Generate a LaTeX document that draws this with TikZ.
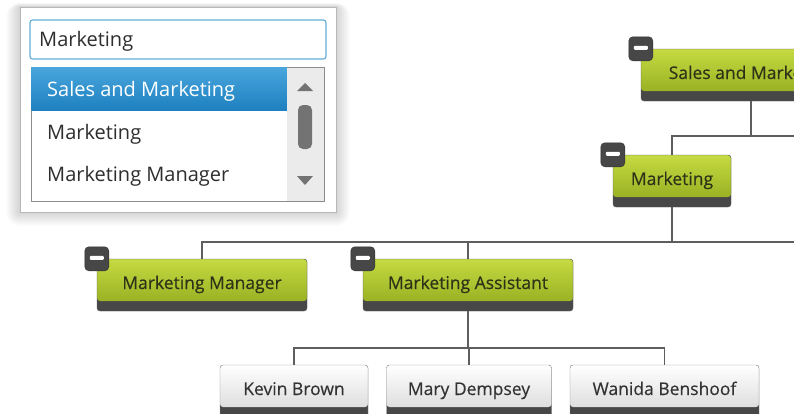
\documentclass[tikz,border=0pt]{standalone}
\usepackage{fontspec}
\setmainfont{Open Sans}
\newfontfamily\orgfont[FakeBold=0.35]{Open Sans}
\definecolor{linkgray}{HTML}{5E5E5E}
\definecolor{bargray}{HTML}{474747}
\definecolor{greentop}{HTML}{C6DA42}
\definecolor{greenbot}{HTML}{8FA91C}
\definecolor{greentext}{HTML}{2C3318}
\definecolor{selbluetop}{HTML}{48A6DC}
\definecolor{selbluebot}{HTML}{1E80C0}
\definecolor{fieldblue}{HTML}{62AED6}
\begin{document}
\begin{tikzpicture}[x=1pt,y=-1pt,
    orgbox/.style={draw=black!65, rounded corners=3pt, fill=bargray,
      inner xsep=0pt, inner ysep=0pt, text height=30pt, text depth=22pt,
      font=\orgfont\fontsize{17.5}{20}\selectfont, text=greentext,
      path picture={\shade[top color=greentop, bottom color=greenbot]
        (path picture bounding box.north west) rectangle
        ([yshift=10pt]path picture bounding box.south east);}},
    personbox/.style={orgbox, draw=black!45, text=black!80,
      path picture={\shade[top color=white, bottom color=black!16]
        (path picture bounding box.north west) rectangle
        ([yshift=10pt]path picture bounding box.south east);}},
    badge/.style={draw=black!80, fill=bargray, rounded corners=4pt,
      minimum size=24pt, inner sep=0pt,
      path picture={\fill[white, rounded corners=1pt]
        ([xshift=-7pt,yshift=-1pt]path picture bounding box.center) rectangle
        ([xshift=7pt,yshift=3pt]path picture bounding box.center);}},
    link/.style={draw=linkgray, line width=1.3pt},
    listrow/.style={anchor=base west, inner sep=0pt,
      font=\fontsize{20}{24}\selectfont, text=black!82}]
  \useasboundingbox (0,0) rectangle (794,413);
  \clip (0,0) rectangle (794,413);

  % search panel
  \foreach \i in {1,...,14}
    \fill[black, opacity=0.013, rounded corners=\i pt] (20-\i,7-0.3*\i) rectangle (336+\i,212+\i);
  \draw[black!28, fill=white] (20,7) rectangle (336,212);
  \draw[fieldblue, line width=1.1pt, fill=white, rounded corners=2.5pt] (30,20) rectangle (326,59);
  \node[listrow] (query) at (39,46.5) {Marketing};
  \draw[black!45] (31,67) rectangle (324,201);
  \shade[top color=selbluetop, bottom color=selbluebot] (31.5,67.5) rectangle (287,110);
  \fill[black!8] (287,67.5) rectangle (323.5,200.5);
  \node[listrow, text=white] (item1) at (47,96) {Sales and Marketing};
  \node[listrow] (item2) at (47,139) {Marketing};
  \node[listrow] (item3) at (47,181.5) {Marketing Manager};
  \fill[black!55] (297,91) -- (313,91) -- (305,83) -- cycle;
  \fill[black!55] (297,176) -- (313,176) -- (305,185) -- cycle;
  \fill[black!55, rounded corners=5pt] (298,105) rectangle (312,149);

  % org chart
  \node[orgbox, minimum width=220pt] (sales) at (751,75) {Sales and Marketing};
  \node[orgbox, minimum width=118pt] (mktg) at (672,181) {Marketing};
  \node[orgbox, minimum width=210pt] (manager) at (202,285) {Marketing Manager};
  \node[orgbox, minimum width=210pt] (assistant) at (468,285) {Marketing Assistant};
  \node[personbox, minimum width=148pt] (kevin) at (294,391) {Kevin Brown};
  \node[personbox, minimum width=165pt] (mary) at (469,391) {Mary Dempsey};
  \node[personbox, minimum width=189pt] (wanida) at (664.5,391) {Wanida Benshoof};

  \node[badge] (sales-toggle) at (sales.north west) {};
  \node[badge] (mktg-toggle) at (mktg.north west) {};
  \node[badge] (manager-toggle) at (manager.north west) {};
  \node[badge] (assistant-toggle) at (assistant.north west) {};

  \coordinate (bus1) at (800,136);
  \coordinate (bus2) at (800,242);
  \coordinate (bus3) at (0,348);
  \draw[link] (sales.south) -- (sales.south |- bus1);
  \draw[link] (mktg.north) -- (mktg.north |- bus1) -- (bus1);
  \draw[link] (mktg.south) -- (mktg.south |- bus2);
  \draw[link] (manager.north) -- (manager.north |- bus2) -- (bus2);
  \draw[link] (assistant.north) -- (assistant.north |- bus2);
  \draw[link] (assistant.south) -- (assistant.south |- bus3);
  \draw[link] (kevin.north) -- (kevin.north |- bus3) -- (wanida.north |- bus3) -- (wanida.north);
  \draw[link] (mary.north) -- (mary.north |- bus3);
\end{tikzpicture}
\end{document}
